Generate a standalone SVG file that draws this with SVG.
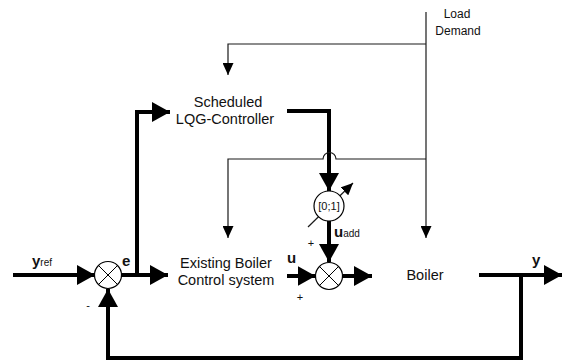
<svg xmlns="http://www.w3.org/2000/svg" width="564" height="363" viewBox="0 0 564 363">
<style>
.thick{fill:none;stroke:#000;stroke-width:4}
.thin{fill:none;stroke:#1a1a1a;stroke-width:1.2}
.sum{fill:#fff;stroke:#000;stroke-width:1.2}
.x{stroke:#000;stroke-width:1}
text{font-family:"Liberation Sans",Arial,sans-serif;fill:#111}
.lbl{font-size:14.5px}
.sm{font-size:12px}
.b{font-weight:bold;font-size:15px}
.sub{font-size:10px;font-weight:normal}
</style>
<defs>
<marker id="ah" markerUnits="userSpaceOnUse" markerWidth="18" markerHeight="20" refX="18" refY="10" orient="auto"><path d="M0,0 L18,10 L0,20 z" fill="#000"/></marker>
<marker id="at" markerUnits="userSpaceOnUse" markerWidth="12" markerHeight="11" refX="12" refY="5.5" orient="auto"><path d="M0,0 L12,5.5 L0,11 z" fill="#000"/></marker>
</defs>
<g id="connectors">
<path class="thick" d="M13,275 H95" marker-end="url(#ah)"/>
<path class="thick" d="M121,275 H168" marker-end="url(#ah)"/>
<path class="thick" d="M137,275 V112 H170" marker-end="url(#ah)"/>
<path class="thick" d="M479,275 H562" marker-end="url(#ah)"/>
<path class="thick" d="M521,275 V358 H108 V289" marker-end="url(#ah)"/>
<path class="thick" d="M287,111 H329 V191" marker-end="url(#ah)"/>
<path class="thick" d="M329,221 V262" marker-end="url(#ah)"/>
<path class="thick" d="M287,276 H315.5" marker-end="url(#ah)"/>
<path class="thick" d="M342.5,276 H372" marker-end="url(#ah)"/>
<path class="thin" d="M426,12 V238" marker-end="url(#at)"/>
<path class="thin" d="M426,44 H228 V75" marker-end="url(#at)"/>
<path class="thin" d="M426,159 H336 A6.5,6.5 0 0 0 323,159 H228 V238" marker-end="url(#at)"/>
<path class="thin" d="M308,227 L353,183" marker-end="url(#at)"/>
</g>
<g id="sum1">
<circle class="sum" cx="108" cy="275" r="13.5"/>
<path class="x" d="M98.5,265.5 L117.5,284.5 M117.5,265.5 L98.5,284.5"/>
</g>
<g id="sum2">
<circle class="sum" cx="329" cy="276" r="13.5"/>
<path class="x" d="M319.5,266.5 L338.5,285.5 M338.5,266.5 L319.5,285.5"/>
</g>
<g id="gain">
<circle class="sum" cx="329" cy="206" r="15"/>
<text x="329" y="210" font-size="11" text-anchor="middle">[0;1]</text>
</g>
<g id="controller">
<text class="lbl" x="228" y="107" text-anchor="middle">Scheduled</text>
<text class="lbl" x="225" y="124" text-anchor="middle">LQG-Controller</text>
</g>
<g id="existing">
<text class="lbl" x="226" y="268" text-anchor="middle">Existing Boiler</text>
<text class="lbl" x="226" y="285" text-anchor="middle">Control system</text>
</g>
<g id="boiler">
<text class="lbl" x="425" y="280" text-anchor="middle">Boiler</text>
</g>
<g id="load">
<text class="sm" x="457" y="18" text-anchor="middle">Load</text>
<text class="sm" x="458" y="35" text-anchor="middle">Demand</text>
</g>
<g id="labels">
<text class="b" x="32" y="266">y<tspan class="sub">ref</tspan></text>
<text class="b" x="122" y="266">e</text>
<text class="b" x="287" y="263">u</text>
<text class="b" x="334" y="237">u<tspan class="sub">add</tspan></text>
<text class="b" x="532" y="265">y</text>
<text font-size="11" x="311" y="247" text-anchor="middle">+</text>
<text font-size="11" x="300" y="301" text-anchor="middle">+</text>
<text font-size="11" x="88" y="309" text-anchor="middle">-</text>
</g>
</svg>
